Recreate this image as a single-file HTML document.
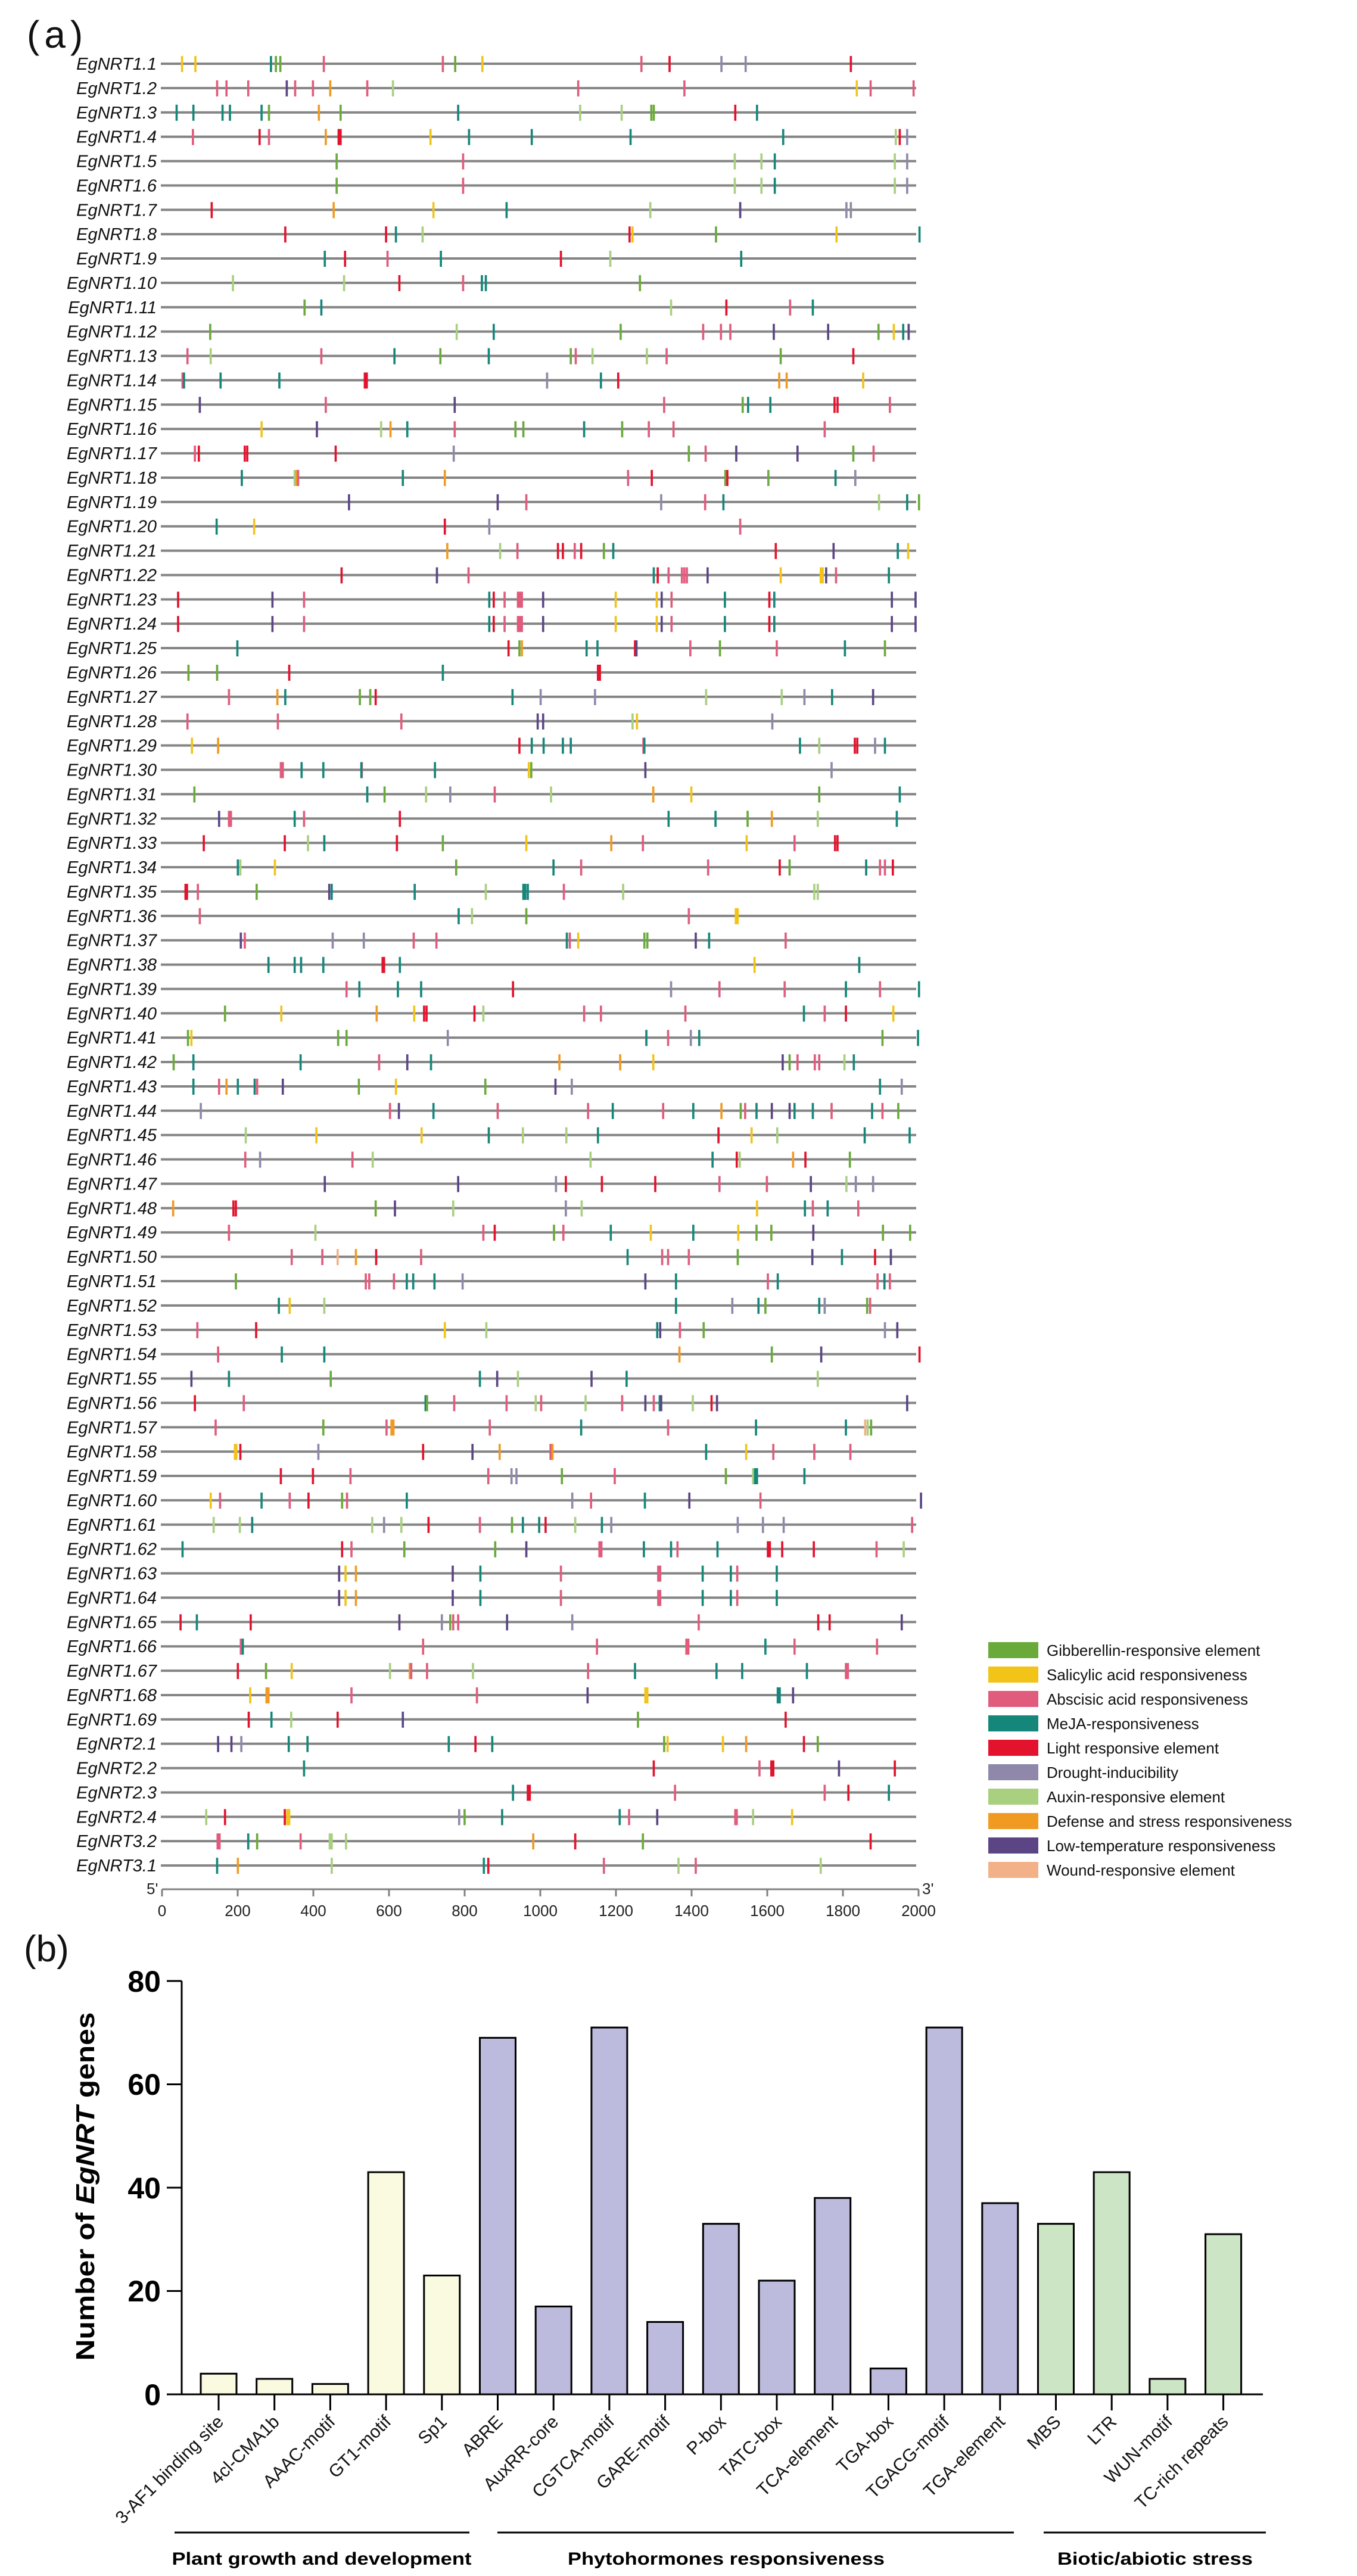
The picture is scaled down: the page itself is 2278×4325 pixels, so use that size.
<!DOCTYPE html>
<html><head><meta charset="utf-8"><style>
html,body{margin:0;padding:0;background:#fff}
svg{display:block}
.lb{font:italic 29px "Liberation Sans",sans-serif;fill:#111;text-anchor:end}
.ax{font:26px "Liberation Sans",sans-serif;fill:#222}
.lg{font:26px "Liberation Sans",sans-serif;fill:#111}
.yt{font:bold 50px "Liberation Sans",sans-serif;fill:#000;text-anchor:end}
.xl{font:30px "Liberation Sans",sans-serif;fill:#111;text-anchor:end}
.gp{font:bold 30px "Liberation Sans",sans-serif;fill:#000;text-anchor:middle}
</style></head><body>
<svg width="2278" height="4325" viewBox="0 0 2278 4325" xmlns="http://www.w3.org/2000/svg">
<defs>
<rect id="ln" x="270" y="-2" width="1268" height="4" fill="#858585"/>
<rect id="G" x="-2.2" y="-13" width="4.4" height="27" fill="#6aaa3a"/>
<rect id="S" x="-2.2" y="-13" width="4.4" height="27" fill="#f2c418"/>
<rect id="A" x="-2.2" y="-13" width="4.4" height="27" fill="#e15b7d"/>
<rect id="M" x="-2.2" y="-13" width="4.4" height="27" fill="#14877a"/>
<rect id="L" x="-2.2" y="-13" width="4.4" height="27" fill="#e3122d"/>
<rect id="D" x="-2.2" y="-13" width="4.4" height="27" fill="#8f88aa"/>
<rect id="X" x="-2.2" y="-13" width="4.4" height="27" fill="#a9d07f"/>
<rect id="F" x="-2.2" y="-13" width="4.4" height="27" fill="#f19a22"/>
<rect id="T" x="-2.2" y="-13" width="4.4" height="27" fill="#5b4585"/>
<rect id="W" x="-2.2" y="-13" width="4.4" height="27" fill="#f2b189"/>
</defs>
<text x="45" y="80" style="font:64px 'Liberation Sans',sans-serif;letter-spacing:8px" fill="#111">(a)</text>

<g transform="translate(0,107)"><text class="lb" x="263" y="10">EgNRT1.1</text><use href="#ln"/><g transform="translate(260,0) scale(.8292,1)"><use href="#S" x="55"/><use href="#S" x="82"/><use href="#M" x="235"/><use href="#G" x="245"/><use href="#G" x="254"/><use href="#A" x="342"/><use href="#A" x="583"/><use href="#G" x="608"/><use href="#S" x="663"/><use href="#A" x="985"/><use href="#L" x="1042"/><use href="#D" x="1147"/><use href="#D" x="1196"/><use href="#L" x="1409"/></g></g>
<g transform="translate(0,147.9)"><text class="lb" x="263" y="10">EgNRT1.2</text><use href="#ln"/><g transform="translate(260,0) scale(.8292,1)"><use href="#A" x="126"/><use href="#A" x="145"/><use href="#A" x="189"/><use href="#T" x="267"/><use href="#A" x="284"/><use href="#A" x="320"/><use href="#F" x="355"/><use href="#A" x="430"/><use href="#X" x="482"/><use href="#A" x="857"/><use href="#A" x="1072"/><use href="#S" x="1421"/><use href="#A" x="1449"/><use href="#A" x="1536"/></g></g>
<g transform="translate(0,188.8)"><text class="lb" x="263" y="10">EgNRT1.3</text><use href="#ln"/><g transform="translate(260,0) scale(.8292,1)"><use href="#M" x="44"/><use href="#M" x="78"/><use href="#M" x="137"/><use href="#M" x="152"/><use href="#M" x="216"/><use href="#G" x="231"/><use href="#F" x="332"/><use href="#G" x="376"/><use href="#M" x="614"/><use href="#X" x="861"/><use href="#X" x="945"/><use href="#G" x="1005"/><use href="#G" x="1010"/><use href="#L" x="1175"/><use href="#M" x="1219"/></g></g>
<g transform="translate(0,229.6)"><text class="lb" x="263" y="10">EgNRT1.4</text><use href="#ln"/><g transform="translate(260,0) scale(.8292,1)"><use href="#A" x="77"/><use href="#L" x="212"/><use href="#A" x="231"/><use href="#F" x="346"/><use href="#L" x="372"/><use href="#L" x="376"/><use href="#S" x="558"/><use href="#M" x="636"/><use href="#M" x="763"/><use href="#M" x="963"/><use href="#M" x="1272"/><use href="#X" x="1500"/><use href="#L" x="1508"/><use href="#D" x="1523"/></g></g>
<g transform="translate(0,270.5)"><text class="lb" x="263" y="10">EgNRT1.5</text><use href="#ln"/><g transform="translate(260,0) scale(.8292,1)"><use href="#G" x="368"/><use href="#A" x="624"/><use href="#X" x="1174"/><use href="#X" x="1228"/><use href="#M" x="1255"/><use href="#X" x="1498"/><use href="#D" x="1523"/></g></g>
<g transform="translate(0,311.4)"><text class="lb" x="263" y="10">EgNRT1.6</text><use href="#ln"/><g transform="translate(260,0) scale(.8292,1)"><use href="#G" x="368"/><use href="#A" x="624"/><use href="#X" x="1174"/><use href="#X" x="1228"/><use href="#M" x="1255"/><use href="#X" x="1498"/><use href="#D" x="1523"/></g></g>
<g transform="translate(0,352.3)"><text class="lb" x="263" y="10">EgNRT1.7</text><use href="#ln"/><g transform="translate(260,0) scale(.8292,1)"><use href="#L" x="115"/><use href="#F" x="362"/><use href="#S" x="564"/><use href="#M" x="712"/><use href="#X" x="1003"/><use href="#T" x="1185"/><use href="#D" x="1400"/><use href="#D" x="1409"/></g></g>
<g transform="translate(0,393.2)"><text class="lb" x="263" y="10">EgNRT1.8</text><use href="#ln"/><g transform="translate(260,0) scale(.8292,1)"><use href="#L" x="264"/><use href="#L" x="468"/><use href="#M" x="488"/><use href="#X" x="542"/><use href="#L" x="961"/><use href="#S" x="967"/><use href="#G" x="1136"/><use href="#S" x="1380"/><use href="#M" x="1548"/></g></g>
<g transform="translate(0,434.0)"><text class="lb" x="263" y="10">EgNRT1.9</text><use href="#ln"/><g transform="translate(260,0) scale(.8292,1)"><use href="#M" x="344"/><use href="#L" x="385"/><use href="#A" x="471"/><use href="#M" x="579"/><use href="#L" x="822"/><use href="#X" x="922"/><use href="#M" x="1187"/></g></g>
<g transform="translate(0,474.9)"><text class="lb" x="263" y="10">EgNRT1.10</text><use href="#ln"/><g transform="translate(260,0) scale(.8292,1)"><use href="#X" x="158"/><use href="#X" x="383"/><use href="#L" x="495"/><use href="#A" x="624"/><use href="#M" x="662"/><use href="#M" x="670"/><use href="#G" x="982"/></g></g>
<g transform="translate(0,515.8)"><text class="lb" x="263" y="10">EgNRT1.11</text><use href="#ln"/><g transform="translate(260,0) scale(.8292,1)"><use href="#G" x="303"/><use href="#M" x="337"/><use href="#X" x="1045"/><use href="#L" x="1157"/><use href="#A" x="1286"/><use href="#M" x="1332"/></g></g>
<g transform="translate(0,556.7)"><text class="lb" x="263" y="10">EgNRT1.12</text><use href="#ln"/><g transform="translate(260,0) scale(.8292,1)"><use href="#G" x="112"/><use href="#X" x="611"/><use href="#M" x="686"/><use href="#G" x="943"/><use href="#A" x="1110"/><use href="#A" x="1146"/><use href="#A" x="1165"/><use href="#T" x="1253"/><use href="#T" x="1363"/><use href="#G" x="1465"/><use href="#S" x="1496"/><use href="#M" x="1515"/><use href="#T" x="1526"/></g></g>
<g transform="translate(0,597.6)"><text class="lb" x="263" y="10">EgNRT1.13</text><use href="#ln"/><g transform="translate(260,0) scale(.8292,1)"><use href="#A" x="66"/><use href="#X" x="113"/><use href="#A" x="337"/><use href="#M" x="485"/><use href="#G" x="578"/><use href="#M" x="676"/><use href="#G" x="842"/><use href="#A" x="852"/><use href="#X" x="886"/><use href="#X" x="996"/><use href="#A" x="1036"/><use href="#G" x="1267"/><use href="#L" x="1414"/></g></g>
<g transform="translate(0,638.4)"><text class="lb" x="263" y="10">EgNRT1.14</text><use href="#ln"/><g transform="translate(260,0) scale(.8292,1)"><use href="#A" x="56"/><use href="#M" x="59"/><use href="#M" x="133"/><use href="#M" x="252"/><use href="#L" x="425"/><use href="#L" x="429"/><use href="#D" x="794"/><use href="#M" x="903"/><use href="#L" x="938"/><use href="#F" x="1264"/><use href="#F" x="1279"/><use href="#S" x="1434"/></g></g>
<g transform="translate(0,679.3)"><text class="lb" x="263" y="10">EgNRT1.15</text><use href="#ln"/><g transform="translate(260,0) scale(.8292,1)"><use href="#T" x="91"/><use href="#A" x="346"/><use href="#T" x="607"/><use href="#A" x="1031"/><use href="#G" x="1190"/><use href="#M" x="1201"/><use href="#M" x="1246"/><use href="#L" x="1376"/><use href="#L" x="1382"/><use href="#A" x="1488"/></g></g>
<g transform="translate(0,720.2)"><text class="lb" x="263" y="10">EgNRT1.16</text><use href="#ln"/><g transform="translate(260,0) scale(.8292,1)"><use href="#S" x="216"/><use href="#T" x="328"/><use href="#X" x="458"/><use href="#F" x="477"/><use href="#M" x="511"/><use href="#A" x="607"/><use href="#G" x="730"/><use href="#G" x="746"/><use href="#M" x="869"/><use href="#G" x="946"/><use href="#A" x="1000"/><use href="#A" x="1050"/><use href="#A" x="1356"/></g></g>
<g transform="translate(0,761.1)"><text class="lb" x="263" y="10">EgNRT1.17</text><use href="#ln"/><g transform="translate(260,0) scale(.8292,1)"><use href="#A" x="81"/><use href="#L" x="89"/><use href="#L" x="182"/><use href="#L" x="187"/><use href="#L" x="366"/><use href="#D" x="605"/><use href="#G" x="1081"/><use href="#A" x="1115"/><use href="#T" x="1177"/><use href="#T" x="1301"/><use href="#G" x="1414"/><use href="#A" x="1455"/></g></g>
<g transform="translate(0,802.0)"><text class="lb" x="263" y="10">EgNRT1.18</text><use href="#ln"/><g transform="translate(260,0) scale(.8292,1)"><use href="#M" x="176"/><use href="#X" x="283"/><use href="#F" x="287"/><use href="#A" x="290"/><use href="#M" x="502"/><use href="#F" x="587"/><use href="#A" x="958"/><use href="#L" x="1006"/><use href="#G" x="1155"/><use href="#L" x="1159"/><use href="#G" x="1242"/><use href="#M" x="1378"/><use href="#D" x="1418"/></g></g>
<g transform="translate(0,842.8)"><text class="lb" x="263" y="10">EgNRT1.19</text><use href="#ln"/><g transform="translate(260,0) scale(.8292,1)"><use href="#T" x="393"/><use href="#T" x="694"/><use href="#A" x="752"/><use href="#D" x="1025"/><use href="#A" x="1114"/><use href="#M" x="1151"/><use href="#X" x="1466"/><use href="#M" x="1523"/><use href="#G" x="1547"/></g></g>
<g transform="translate(0,883.7)"><text class="lb" x="263" y="10">EgNRT1.20</text><use href="#ln"/><g transform="translate(260,0) scale(.8292,1)"><use href="#M" x="125"/><use href="#S" x="201"/><use href="#L" x="587"/><use href="#D" x="677"/><use href="#A" x="1185"/></g></g>
<g transform="translate(0,924.6)"><text class="lb" x="263" y="10">EgNRT1.21</text><use href="#ln"/><g transform="translate(260,0) scale(.8292,1)"><use href="#F" x="592"/><use href="#X" x="699"/><use href="#A" x="734"/><use href="#L" x="816"/><use href="#L" x="826"/><use href="#A" x="850"/><use href="#L" x="863"/><use href="#G" x="909"/><use href="#M" x="928"/><use href="#L" x="1257"/><use href="#T" x="1374"/><use href="#M" x="1504"/><use href="#S" x="1525"/></g></g>
<g transform="translate(0,965.5)"><text class="lb" x="263" y="10">EgNRT1.22</text><use href="#ln"/><g transform="translate(260,0) scale(.8292,1)"><use href="#L" x="378"/><use href="#T" x="571"/><use href="#A" x="635"/><use href="#M" x="1010"/><use href="#L" x="1018"/><use href="#A" x="1040"/><use href="#A" x="1067"/><use href="#A" x="1072"/><use href="#A" x="1077"/><use href="#T" x="1119"/><use href="#S" x="1267"/><use href="#S" x="1348"/><use href="#S" x="1352"/><use href="#T" x="1359"/><use href="#A" x="1379"/><use href="#M" x="1486"/></g></g>
<g transform="translate(0,1006.4)"><text class="lb" x="263" y="10">EgNRT1.23</text><use href="#ln"/><g transform="translate(260,0) scale(.8292,1)"><use href="#L" x="47"/><use href="#T" x="238"/><use href="#A" x="302"/><use href="#M" x="677"/><use href="#L" x="686"/><use href="#A" x="708"/><use href="#A" x="735"/><use href="#A" x="739"/><use href="#A" x="743"/><use href="#T" x="786"/><use href="#S" x="933"/><use href="#S" x="1016"/><use href="#T" x="1026"/><use href="#A" x="1046"/><use href="#M" x="1154"/><use href="#L" x="1244"/><use href="#M" x="1254"/><use href="#T" x="1492"/><use href="#T" x="1540"/></g></g>
<g transform="translate(0,1047.2)"><text class="lb" x="263" y="10">EgNRT1.24</text><use href="#ln"/><g transform="translate(260,0) scale(.8292,1)"><use href="#L" x="47"/><use href="#T" x="238"/><use href="#A" x="302"/><use href="#M" x="677"/><use href="#L" x="686"/><use href="#A" x="708"/><use href="#A" x="735"/><use href="#A" x="739"/><use href="#A" x="743"/><use href="#T" x="786"/><use href="#S" x="933"/><use href="#S" x="1016"/><use href="#T" x="1026"/><use href="#A" x="1046"/><use href="#M" x="1154"/><use href="#L" x="1244"/><use href="#M" x="1254"/><use href="#T" x="1492"/><use href="#T" x="1540"/></g></g>
<g transform="translate(0,1088.1)"><text class="lb" x="263" y="10">EgNRT1.25</text><use href="#ln"/><g transform="translate(260,0) scale(.8292,1)"><use href="#M" x="167"/><use href="#L" x="716"/><use href="#G" x="738"/><use href="#F" x="743"/><use href="#M" x="874"/><use href="#M" x="896"/><use href="#L" x="972"/><use href="#T" x="975"/><use href="#A" x="1084"/><use href="#G" x="1144"/><use href="#A" x="1259"/><use href="#M" x="1397"/><use href="#G" x="1478"/></g></g>
<g transform="translate(0,1129.0)"><text class="lb" x="263" y="10">EgNRT1.26</text><use href="#ln"/><g transform="translate(260,0) scale(.8292,1)"><use href="#G" x="68"/><use href="#G" x="126"/><use href="#L" x="272"/><use href="#M" x="583"/><use href="#L" x="897"/><use href="#L" x="901"/></g></g>
<g transform="translate(0,1169.9)"><text class="lb" x="263" y="10">EgNRT1.27</text><use href="#ln"/><g transform="translate(260,0) scale(.8292,1)"><use href="#A" x="150"/><use href="#F" x="248"/><use href="#M" x="264"/><use href="#G" x="415"/><use href="#G" x="436"/><use href="#L" x="447"/><use href="#M" x="724"/><use href="#D" x="781"/><use href="#D" x="891"/><use href="#X" x="1116"/><use href="#X" x="1269"/><use href="#D" x="1315"/><use href="#M" x="1371"/><use href="#T" x="1454"/></g></g>
<g transform="translate(0,1210.8)"><text class="lb" x="263" y="10">EgNRT1.28</text><use href="#ln"/><g transform="translate(260,0) scale(.8292,1)"><use href="#A" x="66"/><use href="#A" x="249"/><use href="#A" x="499"/><use href="#T" x="775"/><use href="#T" x="786"/><use href="#X" x="967"/><use href="#S" x="976"/><use href="#D" x="1250"/></g></g>
<g transform="translate(0,1251.6)"><text class="lb" x="263" y="10">EgNRT1.29</text><use href="#ln"/><g transform="translate(260,0) scale(.8292,1)"><use href="#S" x="75"/><use href="#F" x="128"/><use href="#L" x="738"/><use href="#M" x="763"/><use href="#M" x="787"/><use href="#M" x="826"/><use href="#M" x="842"/><use href="#A" x="989"/><use href="#M" x="991"/><use href="#M" x="1306"/><use href="#X" x="1345"/><use href="#L" x="1417"/><use href="#L" x="1422"/><use href="#D" x="1458"/><use href="#M" x="1478"/></g></g>
<g transform="translate(0,1292.5)"><text class="lb" x="263" y="10">EgNRT1.30</text><use href="#ln"/><g transform="translate(260,0) scale(.8292,1)"><use href="#A" x="255"/><use href="#A" x="259"/><use href="#M" x="297"/><use href="#M" x="341"/><use href="#A" x="419"/><use href="#M" x="418"/><use href="#M" x="567"/><use href="#S" x="757"/><use href="#G" x="762"/><use href="#T" x="993"/><use href="#D" x="1370"/></g></g>
<g transform="translate(0,1333.4)"><text class="lb" x="263" y="10">EgNRT1.31</text><use href="#ln"/><g transform="translate(260,0) scale(.8292,1)"><use href="#G" x="80"/><use href="#M" x="430"/><use href="#G" x="465"/><use href="#X" x="549"/><use href="#D" x="598"/><use href="#A" x="688"/><use href="#X" x="802"/><use href="#F" x="1009"/><use href="#S" x="1086"/><use href="#G" x="1345"/><use href="#M" x="1508"/></g></g>
<g transform="translate(0,1374.3)"><text class="lb" x="263" y="10">EgNRT1.32</text><use href="#ln"/><g transform="translate(260,0) scale(.8292,1)"><use href="#T" x="130"/><use href="#A" x="150"/><use href="#A" x="154"/><use href="#M" x="283"/><use href="#A" x="302"/><use href="#L" x="496"/><use href="#M" x="1040"/><use href="#M" x="1135"/><use href="#G" x="1200"/><use href="#F" x="1249"/><use href="#X" x="1342"/><use href="#M" x="1502"/></g></g>
<g transform="translate(0,1415.2)"><text class="lb" x="263" y="10">EgNRT1.33</text><use href="#ln"/><g transform="translate(260,0) scale(.8292,1)"><use href="#L" x="99"/><use href="#L" x="263"/><use href="#X" x="310"/><use href="#M" x="343"/><use href="#L" x="490"/><use href="#G" x="583"/><use href="#S" x="752"/><use href="#F" x="924"/><use href="#A" x="988"/><use href="#S" x="1198"/><use href="#A" x="1295"/><use href="#L" x="1377"/><use href="#L" x="1382"/></g></g>
<g transform="translate(0,1456.0)"><text class="lb" x="263" y="10">EgNRT1.34</text><use href="#ln"/><g transform="translate(260,0) scale(.8292,1)"><use href="#M" x="168"/><use href="#X" x="173"/><use href="#S" x="243"/><use href="#G" x="610"/><use href="#M" x="807"/><use href="#A" x="863"/><use href="#A" x="1120"/><use href="#L" x="1265"/><use href="#G" x="1285"/><use href="#M" x="1440"/><use href="#A" x="1468"/><use href="#A" x="1478"/><use href="#L" x="1494"/></g></g>
<g transform="translate(0,1496.9)"><text class="lb" x="263" y="10">EgNRT1.35</text><use href="#ln"/><g transform="translate(260,0) scale(.8292,1)"><use href="#L" x="62"/><use href="#L" x="65"/><use href="#A" x="87"/><use href="#G" x="206"/><use href="#T" x="353"/><use href="#M" x="358"/><use href="#M" x="526"/><use href="#X" x="670"/><use href="#M" x="746"/><use href="#M" x="750"/><use href="#M" x="755"/><use href="#A" x="828"/><use href="#X" x="948"/><use href="#X" x="1335"/><use href="#X" x="1342"/></g></g>
<g transform="translate(0,1537.8)"><text class="lb" x="263" y="10">EgNRT1.36</text><use href="#ln"/><g transform="translate(260,0) scale(.8292,1)"><use href="#A" x="91"/><use href="#M" x="615"/><use href="#X" x="642"/><use href="#G" x="752"/><use href="#A" x="1081"/><use href="#S" x="1176"/><use href="#S" x="1180"/></g></g>
<g transform="translate(0,1578.7)"><text class="lb" x="263" y="10">EgNRT1.37</text><use href="#ln"/><g transform="translate(260,0) scale(.8292,1)"><use href="#T" x="174"/><use href="#A" x="182"/><use href="#D" x="360"/><use href="#D" x="423"/><use href="#A" x="524"/><use href="#A" x="570"/><use href="#M" x="834"/><use href="#A" x="840"/><use href="#S" x="857"/><use href="#G" x="991"/><use href="#G" x="997"/><use href="#T" x="1095"/><use href="#M" x="1122"/><use href="#A" x="1277"/></g></g>
<g transform="translate(0,1619.6)"><text class="lb" x="263" y="10">EgNRT1.38</text><use href="#ln"/><g transform="translate(260,0) scale(.8292,1)"><use href="#M" x="230"/><use href="#M" x="283"/><use href="#M" x="296"/><use href="#M" x="341"/><use href="#L" x="461"/><use href="#L" x="464"/><use href="#M" x="496"/><use href="#S" x="1214"/><use href="#M" x="1426"/></g></g>
<g transform="translate(0,1660.4)"><text class="lb" x="263" y="10">EgNRT1.39</text><use href="#ln"/><g transform="translate(260,0) scale(.8292,1)"><use href="#A" x="388"/><use href="#M" x="414"/><use href="#M" x="492"/><use href="#M" x="539"/><use href="#L" x="725"/><use href="#D" x="1045"/><use href="#A" x="1143"/><use href="#A" x="1275"/><use href="#M" x="1399"/><use href="#A" x="1468"/><use href="#M" x="1547"/></g></g>
<g transform="translate(0,1701.3)"><text class="lb" x="263" y="10">EgNRT1.40</text><use href="#ln"/><g transform="translate(260,0) scale(.8292,1)"><use href="#G" x="142"/><use href="#S" x="256"/><use href="#F" x="449"/><use href="#S" x="525"/><use href="#L" x="545"/><use href="#L" x="550"/><use href="#L" x="647"/><use href="#X" x="665"/><use href="#A" x="869"/><use href="#A" x="903"/><use href="#A" x="1074"/><use href="#M" x="1314"/><use href="#A" x="1356"/><use href="#L" x="1399"/><use href="#S" x="1495"/></g></g>
<g transform="translate(0,1742.2)"><text class="lb" x="263" y="10">EgNRT1.41</text><use href="#ln"/><g transform="translate(260,0) scale(.8292,1)"><use href="#G" x="67"/><use href="#S" x="74"/><use href="#G" x="371"/><use href="#G" x="388"/><use href="#D" x="593"/><use href="#M" x="995"/><use href="#A" x="1039"/><use href="#D" x="1085"/><use href="#M" x="1102"/><use href="#G" x="1473"/><use href="#M" x="1545"/></g></g>
<g transform="translate(0,1783.1)"><text class="lb" x="263" y="10">EgNRT1.42</text><use href="#ln"/><g transform="translate(260,0) scale(.8292,1)"><use href="#G" x="38"/><use href="#M" x="78"/><use href="#M" x="295"/><use href="#A" x="454"/><use href="#T" x="511"/><use href="#M" x="559"/><use href="#F" x="819"/><use href="#F" x="942"/><use href="#S" x="1009"/><use href="#T" x="1271"/><use href="#G" x="1285"/><use href="#A" x="1301"/><use href="#A" x="1336"/><use href="#A" x="1345"/><use href="#X" x="1396"/><use href="#M" x="1415"/></g></g>
<g transform="translate(0,1824.0)"><text class="lb" x="263" y="10">EgNRT1.43</text><use href="#ln"/><g transform="translate(260,0) scale(.8292,1)"><use href="#M" x="78"/><use href="#A" x="130"/><use href="#F" x="145"/><use href="#M" x="168"/><use href="#M" x="202"/><use href="#A" x="207"/><use href="#T" x="259"/><use href="#G" x="413"/><use href="#S" x="488"/><use href="#G" x="669"/><use href="#T" x="811"/><use href="#D" x="844"/><use href="#M" x="1468"/><use href="#D" x="1512"/></g></g>
<g transform="translate(0,1864.8)"><text class="lb" x="263" y="10">EgNRT1.44</text><use href="#ln"/><g transform="translate(260,0) scale(.8292,1)"><use href="#D" x="93"/><use href="#A" x="476"/><use href="#T" x="494"/><use href="#M" x="564"/><use href="#A" x="694"/><use href="#A" x="877"/><use href="#M" x="927"/><use href="#A" x="1029"/><use href="#M" x="1090"/><use href="#F" x="1147"/><use href="#G" x="1186"/><use href="#A" x="1195"/><use href="#M" x="1218"/><use href="#T" x="1249"/><use href="#T" x="1285"/><use href="#M" x="1295"/><use href="#M" x="1332"/><use href="#A" x="1370"/><use href="#M" x="1452"/><use href="#A" x="1473"/><use href="#G" x="1505"/></g></g>
<g transform="translate(0,1905.7)"><text class="lb" x="263" y="10">EgNRT1.45</text><use href="#ln"/><g transform="translate(260,0) scale(.8292,1)"><use href="#X" x="184"/><use href="#S" x="327"/><use href="#S" x="540"/><use href="#M" x="676"/><use href="#X" x="745"/><use href="#X" x="833"/><use href="#M" x="897"/><use href="#L" x="1141"/><use href="#S" x="1208"/><use href="#X" x="1260"/><use href="#M" x="1437"/><use href="#M" x="1528"/></g></g>
<g transform="translate(0,1946.6)"><text class="lb" x="263" y="10">EgNRT1.46</text><use href="#ln"/><g transform="translate(260,0) scale(.8292,1)"><use href="#A" x="183"/><use href="#D" x="213"/><use href="#A" x="400"/><use href="#X" x="441"/><use href="#X" x="882"/><use href="#M" x="1129"/><use href="#L" x="1178"/><use href="#X" x="1184"/><use href="#F" x="1292"/><use href="#L" x="1317"/><use href="#G" x="1407"/></g></g>
<g transform="translate(0,1987.5)"><text class="lb" x="263" y="10">EgNRT1.47</text><use href="#ln"/><g transform="translate(260,0) scale(.8292,1)"><use href="#T" x="344"/><use href="#T" x="614"/><use href="#D" x="812"/><use href="#L" x="832"/><use href="#L" x="905"/><use href="#L" x="1013"/><use href="#A" x="1143"/><use href="#A" x="1239"/><use href="#T" x="1328"/><use href="#X" x="1400"/><use href="#D" x="1419"/><use href="#D" x="1454"/></g></g>
<g transform="translate(0,2028.4)"><text class="lb" x="263" y="10">EgNRT1.48</text><use href="#ln"/><g transform="translate(260,0) scale(.8292,1)"><use href="#F" x="37"/><use href="#L" x="159"/><use href="#L" x="164"/><use href="#G" x="447"/><use href="#T" x="486"/><use href="#X" x="604"/><use href="#D" x="832"/><use href="#X" x="864"/><use href="#S" x="1219"/><use href="#M" x="1316"/><use href="#A" x="1332"/><use href="#M" x="1362"/><use href="#A" x="1424"/></g></g>
<g transform="translate(0,2069.2)"><text class="lb" x="263" y="10">EgNRT1.49</text><use href="#ln"/><g transform="translate(260,0) scale(.8292,1)"><use href="#A" x="150"/><use href="#X" x="325"/><use href="#A" x="665"/><use href="#L" x="688"/><use href="#G" x="808"/><use href="#A" x="827"/><use href="#M" x="923"/><use href="#S" x="1004"/><use href="#M" x="1090"/><use href="#S" x="1181"/><use href="#G" x="1218"/><use href="#G" x="1248"/><use href="#T" x="1333"/><use href="#G" x="1474"/><use href="#G" x="1529"/></g></g>
<g transform="translate(0,2110.1)"><text class="lb" x="263" y="10">EgNRT1.50</text><use href="#ln"/><g transform="translate(260,0) scale(.8292,1)"><use href="#A" x="277"/><use href="#A" x="339"/><use href="#W" x="370"/><use href="#F" x="407"/><use href="#L" x="448"/><use href="#A" x="539"/><use href="#M" x="957"/><use href="#A" x="1027"/><use href="#A" x="1039"/><use href="#A" x="1081"/><use href="#G" x="1180"/><use href="#T" x="1331"/><use href="#M" x="1391"/><use href="#L" x="1458"/><use href="#T" x="1490"/></g></g>
<g transform="translate(0,2151.0)"><text class="lb" x="263" y="10">EgNRT1.51</text><use href="#ln"/><g transform="translate(260,0) scale(.8292,1)"><use href="#G" x="164"/><use href="#A" x="427"/><use href="#A" x="434"/><use href="#A" x="484"/><use href="#M" x="510"/><use href="#M" x="523"/><use href="#M" x="566"/><use href="#D" x="623"/><use href="#T" x="993"/><use href="#M" x="1055"/><use href="#A" x="1241"/><use href="#M" x="1261"/><use href="#A" x="1463"/><use href="#M" x="1477"/><use href="#A" x="1488"/></g></g>
<g transform="translate(0,2191.9)"><text class="lb" x="263" y="10">EgNRT1.52</text><use href="#ln"/><g transform="translate(260,0) scale(.8292,1)"><use href="#M" x="251"/><use href="#S" x="273"/><use href="#X" x="343"/><use href="#M" x="1055"/><use href="#D" x="1169"/><use href="#M" x="1222"/><use href="#G" x="1236"/><use href="#M" x="1345"/><use href="#D" x="1356"/><use href="#G" x="1442"/><use href="#A" x="1448"/></g></g>
<g transform="translate(0,2232.8)"><text class="lb" x="263" y="10">EgNRT1.53</text><use href="#ln"/><g transform="translate(260,0) scale(.8292,1)"><use href="#A" x="86"/><use href="#L" x="205"/><use href="#S" x="587"/><use href="#X" x="671"/><use href="#M" x="1017"/><use href="#T" x="1023"/><use href="#A" x="1063"/><use href="#G" x="1111"/><use href="#D" x="1478"/><use href="#T" x="1503"/></g></g>
<g transform="translate(0,2273.6)"><text class="lb" x="263" y="10">EgNRT1.54</text><use href="#ln"/><g transform="translate(260,0) scale(.8292,1)"><use href="#A" x="128"/><use href="#M" x="257"/><use href="#M" x="343"/><use href="#F" x="1062"/><use href="#G" x="1249"/><use href="#T" x="1349"/><use href="#L" x="1548"/></g></g>
<g transform="translate(0,2314.5)"><text class="lb" x="263" y="10">EgNRT1.55</text><use href="#ln"/><g transform="translate(260,0) scale(.8292,1)"><use href="#T" x="74"/><use href="#M" x="150"/><use href="#G" x="356"/><use href="#M" x="658"/><use href="#T" x="693"/><use href="#X" x="735"/><use href="#T" x="884"/><use href="#M" x="955"/><use href="#X" x="1342"/></g></g>
<g transform="translate(0,2355.4)"><text class="lb" x="263" y="10">EgNRT1.56</text><use href="#ln"/><g transform="translate(260,0) scale(.8292,1)"><use href="#L" x="81"/><use href="#A" x="180"/><use href="#M" x="548"/><use href="#G" x="551"/><use href="#A" x="606"/><use href="#A" x="712"/><use href="#X" x="771"/><use href="#A" x="782"/><use href="#X" x="872"/><use href="#A" x="946"/><use href="#T" x="993"/><use href="#A" x="1010"/><use href="#M" x="1022"/><use href="#T" x="1025"/><use href="#X" x="1089"/><use href="#L" x="1127"/><use href="#T" x="1138"/><use href="#T" x="1523"/></g></g>
<g transform="translate(0,2396.3)"><text class="lb" x="263" y="10">EgNRT1.57</text><use href="#ln"/><g transform="translate(260,0) scale(.8292,1)"><use href="#A" x="123"/><use href="#G" x="341"/><use href="#A" x="469"/><use href="#F" x="479"/><use href="#F" x="483"/><use href="#A" x="678"/><use href="#M" x="863"/><use href="#A" x="1039"/><use href="#M" x="1217"/><use href="#M" x="1399"/><use href="#W" x="1438"/><use href="#X" x="1443"/><use href="#G" x="1450"/></g></g>
<g transform="translate(0,2437.2)"><text class="lb" x="263" y="10">EgNRT1.58</text><use href="#ln"/><g transform="translate(260,0) scale(.8292,1)"><use href="#S" x="162"/><use href="#S" x="165"/><use href="#L" x="173"/><use href="#D" x="331"/><use href="#L" x="543"/><use href="#T" x="643"/><use href="#F" x="698"/><use href="#A" x="801"/><use href="#F" x="805"/><use href="#M" x="1116"/><use href="#S" x="1197"/><use href="#A" x="1252"/><use href="#A" x="1335"/><use href="#A" x="1408"/></g></g>
<g transform="translate(0,2478.0)"><text class="lb" x="263" y="10">EgNRT1.59</text><use href="#ln"/><g transform="translate(260,0) scale(.8292,1)"><use href="#L" x="255"/><use href="#L" x="320"/><use href="#A" x="396"/><use href="#A" x="675"/><use href="#D" x="722"/><use href="#D" x="732"/><use href="#G" x="824"/><use href="#A" x="931"/><use href="#G" x="1156"/><use href="#X" x="1211"/><use href="#M" x="1215"/><use href="#M" x="1219"/><use href="#M" x="1315"/></g></g>
<g transform="translate(0,2518.9)"><text class="lb" x="263" y="10">EgNRT1.60</text><use href="#ln"/><g transform="translate(260,0) scale(.8292,1)"><use href="#S" x="113"/><use href="#A" x="132"/><use href="#M" x="216"/><use href="#A" x="273"/><use href="#L" x="311"/><use href="#G" x="379"/><use href="#A" x="389"/><use href="#M" x="510"/><use href="#D" x="845"/><use href="#A" x="883"/><use href="#M" x="992"/><use href="#T" x="1082"/><use href="#A" x="1226"/><use href="#T" x="1551"/></g></g>
<g transform="translate(0,2559.8)"><text class="lb" x="263" y="10">EgNRT1.61</text><use href="#ln"/><g transform="translate(260,0) scale(.8292,1)"><use href="#X" x="119"/><use href="#X" x="172"/><use href="#M" x="197"/><use href="#X" x="440"/><use href="#D" x="464"/><use href="#X" x="499"/><use href="#L" x="554"/><use href="#A" x="658"/><use href="#G" x="723"/><use href="#M" x="745"/><use href="#M" x="778"/><use href="#L" x="791"/><use href="#X" x="851"/><use href="#M" x="905"/><use href="#D" x="924"/><use href="#D" x="1180"/><use href="#D" x="1231"/><use href="#D" x="1273"/><use href="#A" x="1533"/></g></g>
<g transform="translate(0,2600.7)"><text class="lb" x="263" y="10">EgNRT1.62</text><use href="#ln"/><g transform="translate(260,0) scale(.8292,1)"><use href="#M" x="56"/><use href="#L" x="379"/><use href="#A" x="398"/><use href="#G" x="505"/><use href="#G" x="689"/><use href="#T" x="752"/><use href="#A" x="900"/><use href="#A" x="904"/><use href="#M" x="990"/><use href="#M" x="1045"/><use href="#A" x="1058"/><use href="#M" x="1139"/><use href="#L" x="1241"/><use href="#L" x="1245"/><use href="#L" x="1270"/><use href="#L" x="1334"/><use href="#A" x="1461"/><use href="#X" x="1516"/></g></g>
<g transform="translate(0,2641.6)"><text class="lb" x="263" y="10">EgNRT1.63</text><use href="#ln"/><g transform="translate(260,0) scale(.8292,1)"><use href="#T" x="373"/><use href="#S" x="386"/><use href="#F" x="407"/><use href="#T" x="603"/><use href="#M" x="659"/><use href="#A" x="822"/><use href="#A" x="1019"/><use href="#A" x="1023"/><use href="#M" x="1109"/><use href="#M" x="1166"/><use href="#A" x="1179"/><use href="#M" x="1259"/></g></g>
<g transform="translate(0,2682.4)"><text class="lb" x="263" y="10">EgNRT1.64</text><use href="#ln"/><g transform="translate(260,0) scale(.8292,1)"><use href="#T" x="373"/><use href="#S" x="386"/><use href="#F" x="407"/><use href="#T" x="603"/><use href="#M" x="659"/><use href="#A" x="822"/><use href="#A" x="1019"/><use href="#A" x="1023"/><use href="#M" x="1109"/><use href="#M" x="1166"/><use href="#A" x="1179"/><use href="#M" x="1259"/></g></g>
<g transform="translate(0,2723.3)"><text class="lb" x="263" y="10">EgNRT1.65</text><use href="#ln"/><g transform="translate(260,0) scale(.8292,1)"><use href="#L" x="52"/><use href="#M" x="85"/><use href="#L" x="194"/><use href="#T" x="495"/><use href="#D" x="581"/><use href="#G" x="598"/><use href="#A" x="604"/><use href="#A" x="614"/><use href="#T" x="713"/><use href="#D" x="845"/><use href="#A" x="1101"/><use href="#L" x="1343"/><use href="#L" x="1366"/><use href="#T" x="1512"/></g></g>
<g transform="translate(0,2764.2)"><text class="lb" x="263" y="10">EgNRT1.66</text><use href="#ln"/><g transform="translate(260,0) scale(.8292,1)"><use href="#A" x="174"/><use href="#M" x="178"/><use href="#A" x="543"/><use href="#A" x="895"/><use href="#A" x="1076"/><use href="#A" x="1080"/><use href="#M" x="1236"/><use href="#A" x="1295"/><use href="#A" x="1462"/></g></g>
<g transform="translate(0,2805.1)"><text class="lb" x="263" y="10">EgNRT1.67</text><use href="#ln"/><g transform="translate(260,0) scale(.8292,1)"><use href="#L" x="168"/><use href="#G" x="225"/><use href="#S" x="277"/><use href="#X" x="476"/><use href="#F" x="516"/><use href="#A" x="519"/><use href="#A" x="551"/><use href="#X" x="644"/><use href="#A" x="877"/><use href="#M" x="972"/><use href="#M" x="1137"/><use href="#M" x="1189"/><use href="#M" x="1320"/><use href="#A" x="1399"/><use href="#A" x="1403"/></g></g>
<g transform="translate(0,2846.0)"><text class="lb" x="263" y="10">EgNRT1.68</text><use href="#ln"/><g transform="translate(260,0) scale(.8292,1)"><use href="#S" x="193"/><use href="#F" x="226"/><use href="#F" x="230"/><use href="#A" x="398"/><use href="#A" x="652"/><use href="#T" x="876"/><use href="#S" x="993"/><use href="#S" x="997"/><use href="#M" x="1261"/><use href="#M" x="1265"/><use href="#T" x="1292"/></g></g>
<g transform="translate(0,2886.8)"><text class="lb" x="263" y="10">EgNRT1.69</text><use href="#ln"/><g transform="translate(260,0) scale(.8292,1)"><use href="#L" x="190"/><use href="#M" x="236"/><use href="#X" x="276"/><use href="#L" x="370"/><use href="#T" x="502"/><use href="#G" x="978"/><use href="#L" x="1277"/></g></g>
<g transform="translate(0,2927.7)"><text class="lb" x="263" y="10">EgNRT2.1</text><use href="#ln"/><g transform="translate(260,0) scale(.8292,1)"><use href="#T" x="128"/><use href="#T" x="155"/><use href="#D" x="175"/><use href="#M" x="271"/><use href="#M" x="309"/><use href="#M" x="595"/><use href="#L" x="649"/><use href="#M" x="683"/><use href="#G" x="1031"/><use href="#S" x="1038"/><use href="#S" x="1150"/><use href="#F" x="1197"/><use href="#L" x="1314"/><use href="#G" x="1342"/></g></g>
<g transform="translate(0,2968.6)"><text class="lb" x="263" y="10">EgNRT2.2</text><use href="#ln"/><g transform="translate(260,0) scale(.8292,1)"><use href="#M" x="302"/><use href="#L" x="1010"/><use href="#A" x="1224"/><use href="#L" x="1248"/><use href="#L" x="1252"/><use href="#T" x="1385"/><use href="#L" x="1498"/></g></g>
<g transform="translate(0,3009.5)"><text class="lb" x="263" y="10">EgNRT2.3</text><use href="#ln"/><g transform="translate(260,0) scale(.8292,1)"><use href="#M" x="725"/><use href="#L" x="755"/><use href="#L" x="759"/><use href="#A" x="1053"/><use href="#A" x="1356"/><use href="#L" x="1404"/><use href="#M" x="1486"/></g></g>
<g transform="translate(0,3050.4)"><text class="lb" x="263" y="10">EgNRT2.4</text><use href="#ln"/><g transform="translate(260,0) scale(.8292,1)"><use href="#X" x="104"/><use href="#L" x="142"/><use href="#L" x="263"/><use href="#S" x="268"/><use href="#S" x="272"/><use href="#D" x="616"/><use href="#G" x="627"/><use href="#M" x="703"/><use href="#M" x="941"/><use href="#A" x="960"/><use href="#T" x="1017"/><use href="#A" x="1175"/><use href="#A" x="1178"/><use href="#X" x="1211"/><use href="#S" x="1290"/></g></g>
<g transform="translate(0,3091.2)"><text class="lb" x="263" y="10">EgNRT3.2</text><use href="#ln"/><g transform="translate(260,0) scale(.8292,1)"><use href="#A" x="127"/><use href="#A" x="131"/><use href="#M" x="189"/><use href="#G" x="207"/><use href="#A" x="295"/><use href="#X" x="354"/><use href="#X" x="358"/><use href="#X" x="387"/><use href="#F" x="766"/><use href="#L" x="851"/><use href="#G" x="988"/><use href="#L" x="1449"/></g></g>
<g transform="translate(0,3132.1)"><text class="lb" x="263" y="10">EgNRT3.1</text><use href="#ln"/><g transform="translate(260,0) scale(.8292,1)"><use href="#M" x="126"/><use href="#F" x="168"/><use href="#X" x="358"/><use href="#M" x="666"/><use href="#L" x="675"/><use href="#A" x="909"/><use href="#X" x="1060"/><use href="#A" x="1095"/><use href="#X" x="1348"/></g></g>

<!-- axis a -->
<g stroke="#808080" stroke-width="3" fill="none">
<line x1="272" y1="3172" x2="1542" y2="3172"/>
<path d="M272 3172v12M399 3172v12M526 3172v12M653 3172v12M780 3172v12M907 3172v12M1034 3172v12M1161 3172v12M1288 3172v12M1415 3172v12M1542 3172v12"/>
</g>
<g class="ax" text-anchor="middle">
<text x="272" y="3217">0</text><text x="399" y="3217">200</text><text x="526" y="3217">400</text><text x="653" y="3217">600</text><text x="780" y="3217">800</text><text x="907" y="3217">1000</text><text x="1034" y="3217">1200</text><text x="1161" y="3217">1400</text><text x="1288" y="3217">1600</text><text x="1415" y="3217">1800</text><text x="1542" y="3217">2000</text>
</g>
<text class="ax" x="246" y="3180">5'</text>
<text class="ax" x="1548" y="3180">3'</text>

<!-- legend -->
<g>
<rect x="1659" y="2757" width="84" height="27" fill="#6aaa3a"/><text class="lg" x="1757" y="2780">Gibberellin-responsive element</text>
<rect x="1659" y="2798" width="84" height="27" fill="#f2c418"/><text class="lg" x="1757" y="2821">Salicylic acid responsiveness</text>
<rect x="1659" y="2839" width="84" height="27" fill="#e15b7d"/><text class="lg" x="1757" y="2862">Abscisic acid responsiveness</text>
<rect x="1659" y="2880" width="84" height="27" fill="#14877a"/><text class="lg" x="1757" y="2903">MeJA-responsiveness</text>
<rect x="1659" y="2921" width="84" height="27" fill="#e3122d"/><text class="lg" x="1757" y="2944">Light responsive element</text>
<rect x="1659" y="2962" width="84" height="27" fill="#8f88aa"/><text class="lg" x="1757" y="2985">Drought-inducibility</text>
<rect x="1659" y="3003" width="84" height="27" fill="#a9d07f"/><text class="lg" x="1757" y="3026">Auxin-responsive element</text>
<rect x="1659" y="3044" width="84" height="27" fill="#f19a22"/><text class="lg" x="1757" y="3067">Defense and stress responsiveness</text>
<rect x="1659" y="3085" width="84" height="27" fill="#5b4585"/><text class="lg" x="1757" y="3108">Low-temperature responsiveness</text>
<rect x="1659" y="3126" width="84" height="27" fill="#f2b189"/><text class="lg" x="1757" y="3149">Wound-responsive element</text>
</g>

<!-- panel b -->
<text x="40" y="3293" style="font:62px 'Liberation Sans',sans-serif" fill="#111">(b)</text>
<g stroke="#000" stroke-width="3" fill="#fafae0">
<rect x="337" y="3985.3" width="60" height="34.7"/>
<rect x="430.7" y="3994" width="60" height="26"/>
<rect x="524.4" y="4002.6" width="60" height="17.4"/>
<rect x="618.1" y="3647" width="60" height="373"/>
<rect x="711.8" y="3820.5" width="60" height="199.5"/>
</g>
<g stroke="#000" stroke-width="3" fill="#bcbadd">
<rect x="805.5" y="3421.4" width="60" height="598.6"/>
<rect x="899.2" y="3872.5" width="60" height="147.5"/>
<rect x="992.9" y="3404.1" width="60" height="615.9"/>
<rect x="1086.6" y="3898.5" width="60" height="121.5"/>
<rect x="1180.3" y="3733.7" width="60" height="286.3"/>
<rect x="1274" y="3829.1" width="60" height="190.9"/>
<rect x="1367.7" y="3690.3" width="60" height="329.7"/>
<rect x="1461.4" y="3976.6" width="60" height="43.4"/>
<rect x="1555.1" y="3404.1" width="60" height="615.9"/>
<rect x="1648.8" y="3699" width="60" height="321"/>
</g>
<g stroke="#000" stroke-width="3" fill="#cce5c4">
<rect x="1742.5" y="3733.7" width="60" height="286.3"/>
<rect x="1836.2" y="3647" width="60" height="373"/>
<rect x="1929.9" y="3994" width="60" height="26"/>
<rect x="2023.6" y="3751.1" width="60" height="268.9"/>
</g>
<g stroke="#000" stroke-width="3" fill="none">
<path d="M305 3326V4020H2120"/>
<path d="M280 3326h25M280 3499.5h25M280 3673h25M280 3846.5h25M280 4020h25"/>
<path d="M367 4020v27M460.7 4020v27M554.4 4020v27M648.1 4020v27M741.8 4020v27M835.5 4020v27M929.2 4020v27M1022.9 4020v27M1116.6 4020v27M1210.3 4020v27M1304 4020v27M1397.7 4020v27M1491.4 4020v27M1585.1 4020v27M1678.8 4020v27M1772.5 4020v27M1866.2 4020v27M1959.9 4020v27M2053.6 4020v27"/>
<path d="M293 4252H788M835 4252H1702M1752 4252H2125"/>
</g>
<g class="yt">
<text x="270" y="3344">80</text><text x="270" y="3517">60</text><text x="270" y="3691">40</text><text x="270" y="3864">20</text><text x="270" y="4038">0</text>
</g>
<text transform="translate(158,3671) rotate(-90)" text-anchor="middle" style="font:bold 44px 'Liberation Sans',sans-serif" fill="#000" textLength="585" lengthAdjust="spacingAndGlyphs">Number of <tspan font-style="italic">EgNRT</tspan> genes</text>
<g class="xl">
<text transform="translate(377,4068) rotate(-45)">3-AF1 binding site</text>
<text transform="translate(470.7,4068) rotate(-45)">4cl-CMA1b</text>
<text transform="translate(564.4,4068) rotate(-45)">AAAC-motif</text>
<text transform="translate(658.1,4068) rotate(-45)">GT1-motif</text>
<text transform="translate(751.8,4068) rotate(-45)">Sp1</text>
<text transform="translate(845.5,4068) rotate(-45)">ABRE</text>
<text transform="translate(939.2,4068) rotate(-45)">AuxRR-core</text>
<text transform="translate(1032.9,4068) rotate(-45)">CGTCA-motif</text>
<text transform="translate(1126.6,4068) rotate(-45)">GARE-motif</text>
<text transform="translate(1220.3,4068) rotate(-45)">P-box</text>
<text transform="translate(1314,4068) rotate(-45)">TATC-box</text>
<text transform="translate(1407.7,4068) rotate(-45)">TCA-element</text>
<text transform="translate(1501.4,4068) rotate(-45)">TGA-box</text>
<text transform="translate(1595.1,4068) rotate(-45)">TGACG-motif</text>
<text transform="translate(1688.8,4068) rotate(-45)">TGA-element</text>
<text transform="translate(1782.5,4068) rotate(-45)">MBS</text>
<text transform="translate(1876.2,4068) rotate(-45)">LTR</text>
<text transform="translate(1969.9,4068) rotate(-45)">WUN-motif</text>
<text transform="translate(2063.6,4068) rotate(-45)">TC-rich repeats</text>
</g>
<text class="gp" x="540" y="4306" textLength="503" lengthAdjust="spacingAndGlyphs">Plant growth and development</text>
<text class="gp" x="1219" y="4306" textLength="532" lengthAdjust="spacingAndGlyphs">Phytohormones responsiveness</text>
<text class="gp" x="1939" y="4306" textLength="328" lengthAdjust="spacingAndGlyphs">Biotic/abiotic stress</text>
</svg>
</body></html>
